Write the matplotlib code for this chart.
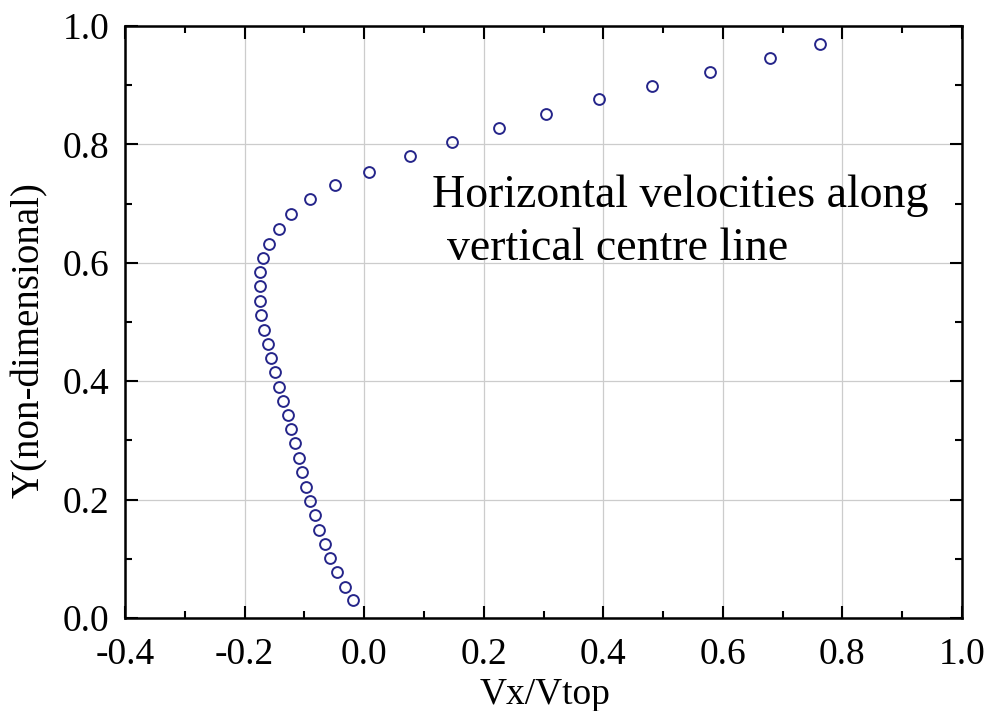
import matplotlib
matplotlib.use("Agg")
import matplotlib.pyplot as plt
from matplotlib.ticker import MultipleLocator, FuncFormatter

vx = [-0.018, -0.032, -0.046, -0.057, -0.066, -0.076, -0.082, -0.091, -0.097, -0.104,
      -0.109, -0.115, -0.122, -0.128, -0.136, -0.143, -0.149, -0.155, -0.161, -0.167,
      -0.172, -0.174, -0.175, -0.174, -0.169, -0.159, -0.143, -0.122, -0.091, -0.048,
      0.008, 0.076, 0.147, 0.226, 0.305, 0.393, 0.481, 0.578, 0.679, 0.762]
yy = [0.030, 0.053, 0.077, 0.101, 0.125, 0.149, 0.174, 0.198, 0.222, 0.246,
      0.270, 0.295, 0.319, 0.343, 0.367, 0.391, 0.415, 0.440, 0.463, 0.487,
      0.512, 0.536, 0.560, 0.584, 0.608, 0.632, 0.657, 0.683, 0.707, 0.731,
      0.754, 0.781, 0.804, 0.828, 0.852, 0.876, 0.899, 0.923, 0.946, 0.969]

plt.rcParams['font.family'] = ['Liberation Serif', 'DejaVu Serif']

fig = plt.figure(figsize=(9.89, 7.11), dpi=100)
ax = fig.add_axes([125/989, 1-618/711, (962-125)/989, (618-26)/711])

ax.plot(vx, yy, linestyle='none', marker='o', markersize=7.8, markerfacecolor='none',
        markeredgecolor='#25258a', markeredgewidth=1.4)

ax.set_xlim(-0.4, 1.0)
ax.set_ylim(0.0, 1.0)
ax.xaxis.set_major_locator(MultipleLocator(0.2))
ax.xaxis.set_minor_locator(MultipleLocator(0.1))
ax.yaxis.set_major_locator(MultipleLocator(0.2))
ax.yaxis.set_minor_locator(MultipleLocator(0.1))
ax.xaxis.set_major_formatter(FuncFormatter(lambda v, p: f"{v:.1f}"))
ax.yaxis.set_major_formatter(FuncFormatter(lambda v, p: f"{v:.1f}"))
ax.grid(True, which='major', color='#cccccc', linewidth=0.9)
ax.set_axisbelow(True)
ax.tick_params(which='both', direction='in', top=True, right=True, labelsize=27, width=1.5, colors='black')
ax.tick_params(which='major', length=9)
ax.tick_params(which='minor', length=5)
ax.tick_params(axis='x', which='major', pad=14)
ax.tick_params(axis='y', which='major', pad=11)
for s in ax.spines.values():
    s.set_linewidth(1.8)

ax.set_xlabel('Vx/Vtop', fontsize=27)
ax.xaxis.set_label_coords(0.502, -0.101)
ax.set_ylabel('Y(non-dimensional)', fontsize=28)
ax.yaxis.set_label_coords(-0.092, 0.47)

ax.text(0.1136, 0.695, 'Horizontal velocities along', fontsize=33, va='baseline', ha='left')
ax.text(0.138, 0.605, 'vertical centre line', fontsize=33, va='baseline', ha='left')

fig.savefig('out.png', dpi=100)
